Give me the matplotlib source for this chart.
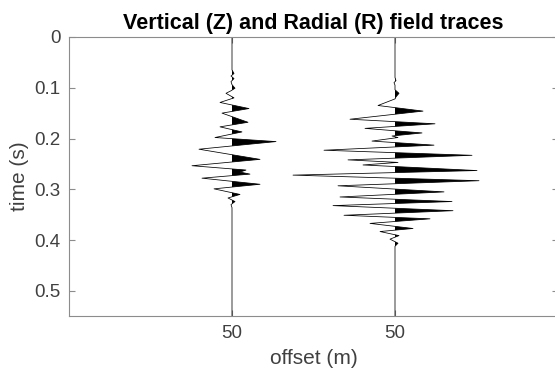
import matplotlib
matplotlib.use('Agg')
import matplotlib.pyplot as plt
import numpy as np

plt.rcParams['font.family'] = ['Liberation Sans', 'DejaVu Sans']

# ---- data ----
trace_names = ['Z', 'R']
trace_positions = [1, 2]
tick_labels = ['50', '50']

z_time = [0.000, 0.065, 0.072, 0.077, 0.082, 0.088, 0.094, 0.101, 0.106, 0.111,
          0.120, 0.129, 0.141, 0.150, 0.159, 0.168, 0.177, 0.187, 0.198, 0.206,
          0.221, 0.241, 0.2535, 0.262, 0.266, 0.270, 0.278, 0.290, 0.299, 0.310,
          0.317, 0.324, 0.330, 0.336, 0.550]
z_amp = [0, 0, 2, -1, 2, -1, 0, 3, -1, -6,
         2, -12, 17, -10, 3, 16, -12, 10, -17, 44,
         -33, 28, -40, 14, 8, 18, -30, 28, -18, 8,
         -4, 3, -1, 0, 0]

r_time = [0.000, 0.080, 0.086, 0.090, 0.095, 0.104, 0.111, 0.118, 0.122, 0.135,
          0.146, 0.162, 0.171, 0.180, 0.189, 0.195, 0.198, 0.205, 0.213, 0.223,
          0.233, 0.242, 0.247, 0.252, 0.263, 0.272, 0.283, 0.293, 0.305, 0.315,
          0.324, 0.332, 0.342, 0.351, 0.358, 0.367, 0.377, 0.383, 0.391, 0.398,
          0.406, 0.412, 0.550]
r_amp = [0, 0, 1, -1, 0, 0, 4, 1, 0, -17,
         28, -45, 40, -30, 27, -3, 3, -23, 39, -71,
         77, -47, 3, -32, 82, -102, 84, -57, 49, -55,
         57, -62, 58, -51, 35, -25, 18, -15, 4, -5,
         3, 0, 0]

amp_scale = 3.0 / 489.0  # amplitude units -> offset-axis units

# ---- figure ----
fig = plt.figure(figsize=(5.55, 3.78), dpi=100)
ax = fig.add_axes([69 / 555, 1 - 316.4 / 378, 489 / 555, 279.5 / 378])

for pos, t, a in [(trace_positions[0], z_time, z_amp), (trace_positions[1], r_time, r_amp)]:
    t = np.array(t, dtype=float)
    a = np.array(a, dtype=float) * amp_scale
    x = pos + a
    ax.fill_betweenx(t, pos, x, where=a > 0, interpolate=True, color='black', lw=0)
    ax.plot(x, t, color='black', lw=0.55)

ax.set_xlim(0, 3)
ax.set_ylim(0.55, 0)
ax.set_xticks(trace_positions)
ax.set_xticklabels(tick_labels)
ax.set_yticks([0, 0.1, 0.2, 0.3, 0.4, 0.5])
ax.set_yticklabels(['0', '0.1', '0.2', '0.3', '0.4', '0.5'])

spine_col = '#8c8c8c'
for s in ax.spines.values():
    s.set_color(spine_col)
    s.set_linewidth(0.8)
ax.tick_params(direction='in', length=4, width=0.8, color=spine_col,
               labelsize=13.5, labelcolor='#404040', top=True, right=True, pad=6)

ax.set_xlabel('offset (m)', fontsize=15, color='#404040', labelpad=5)
ax.set_ylabel('time (s)', fontsize=15, color='#404040', labelpad=4)
ax.set_title('Vertical (Z) and Radial (R) field traces', fontsize=15.5,
             fontweight='bold', color='black', pad=6)

fig.savefig('out.png', dpi=100)
